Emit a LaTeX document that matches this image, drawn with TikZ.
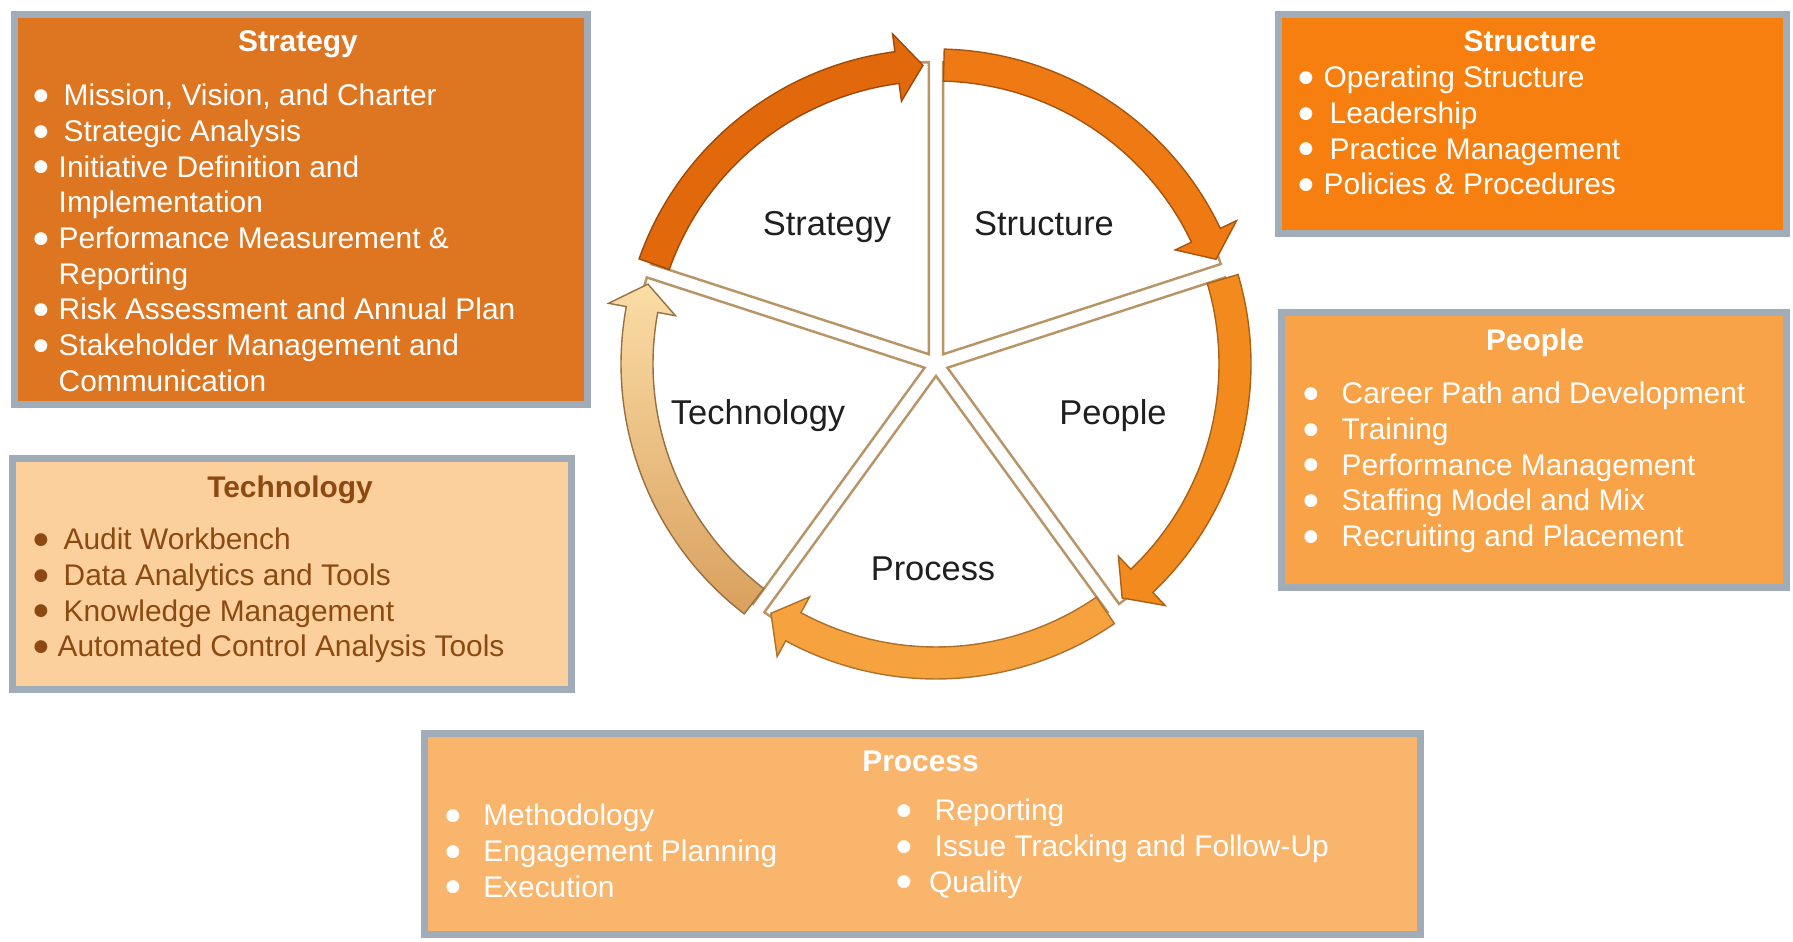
\documentclass[tikz,border=0pt]{standalone}
\usepackage{fontspec}
\setmainfont{Liberation Sans}
\newfontfamily\symfont{DejaVu Sans}
\usepackage{array}
\usepackage{tikz}
\usetikzlibrary{calc}
\definecolor{FrameGray}{HTML}{A0ADB9}
\definecolor{StratBox}{HTML}{DD7521}
\definecolor{StructBox}{HTML}{F67F0F}
\definecolor{PeopleBox}{HTML}{F9A349}
\definecolor{TechBox}{HTML}{FBD09C}
\definecolor{ProcBox}{HTML}{F9B56C}
\definecolor{TechText}{HTML}{8C4A12}
\definecolor{ArrStrat}{HTML}{E2680C}
\definecolor{ArrStruct}{HTML}{EF7A14}
\definecolor{ArrPeople}{HTML}{F38A1E}
\definecolor{ArrProc}{HTML}{F6A23E}
\definecolor{ArrTechTop}{HTML}{FBDDA6}
\definecolor{ArrTechBot}{HTML}{D9A05E}
\definecolor{WedgeEdge}{HTML}{B99467}
\newcommand{\boxfont}{\fontsize{8.5}{10.15}\selectfont}
\newcommand{\ringfont}{\fontsize{9.8}{11.8}\selectfont}
\newcommand{\blt}{\raisebox{1.5pt}{\symfont\fontsize{4.8}{4.8}\selectfont ●}}
\newcommand{\ringout}{3.15}
\newcommand{\ringin}{2.83}
\newcommand{\ringmid}{2.99}
% one pie piece, #1 = bisector angle
\newcommand{\wedgepiece}[1]{%
  \path[wedge] (#1:0.12) -- ++(#1-36:2.92)
    arc[start angle=#1-36, end angle=#1+36, radius=2.92] -- cycle;}
% curved arrow on the ring, clockwise from #1 to tip at #2
\newcommand{\ringarrow}[3]{%
  \path[#3] (#1:\ringout) arc[start angle=#1, end angle=#2+5, radius=\ringout]
    -- (#2+5:\ringout+0.18) -- (#2:\ringmid) -- (#2+5:\ringin-0.18)
    -- (#2+5:\ringin) arc[start angle=#2+5, end angle=#1, radius=\ringin] -- cycle;}

\begin{document}
\begin{tikzpicture}[
  bx/.style={draw=FrameGray, line width=2pt, inner sep=0pt},
  ttl/.style={anchor=base, font=\boxfont\bfseries},
  lst/.style={anchor=north west, inner sep=0pt, font=\boxfont},
  lbl/.style={anchor=base, font=\ringfont, text=black!88},
  wedge/.style={fill=white, draw=WedgeEdge, line width=0.7pt}]
  \path[use as bounding box, fill=white] (0,0) rectangle (17.93,9.41);

  % cycle
  \begin{scope}[shift={(9.36,5.77)}]
    \wedgepiece{126}
    \wedgepiece{54}
    \wedgepiece{-18}
    \wedgepiece{-90}
    \wedgepiece{198}
    \ringarrow{160.5}{92.5}{fill=ArrStrat, draw=ArrStrat!70!black, line width=0.4pt}
    \ringarrow{88.5}{20.5}{fill=ArrStruct, draw=ArrStruct!70!black, line width=0.4pt}
    \ringarrow{16.5}{-51.5}{fill=ArrPeople, draw=ArrPeople!70!black, line width=0.4pt}
    \ringarrow{-55.5}{-123.5}{fill=ArrProc, draw=ArrProc!70!black, line width=0.4pt}
    \ringarrow{-127.5}{-195.5}{top color=ArrTechTop, bottom color=ArrTechBot,
      draw=ArrTechBot!70!black, line width=0.4pt}
  \end{scope}
  \node[lbl] (lstrat)  at (8.27,7.055)  {Strategy};
  \node[lbl] (lstruct) at (10.44,7.055) {Structure};
  \node[lbl] (ltech)   at (7.58,5.165)  {Technology};
  \node[lbl] (lpeople) at (11.13,5.165) {People};
  \node[lbl] (lproc)   at (9.33,3.605)  {Process};

  % boxes
  \node[bx, fill=StratBox, minimum width=5.73cm, minimum height=3.9cm] (stratbox) at (3.01,7.315) {};
  \node[bx, fill=StructBox, minimum width=5.08cm, minimum height=2.19cm] (structbox) at (15.325,8.17) {};
  \node[bx, fill=PeopleBox, minimum width=5.05cm, minimum height=2.75cm] (peoplebox) at (15.34,4.91) {};
  \node[bx, fill=TechBox, minimum width=5.59cm, minimum height=2.31cm] (techbox) at (2.92,3.67) {};
  \node[bx, fill=ProcBox, minimum width=9.96cm, minimum height=2.01cm] (procbox) at (9.225,1.07) {};

  % titles
  \node[ttl, text=white] (stratttl)  at (2.98,8.89)  {Strategy};
  \node[ttl, text=white] (structttl) at (15.30,8.89) {Structure};
  \node[ttl, text=white] (peoplettl) at (15.35,5.90) {People};
  \node[ttl, text=TechText] (techttl) at (2.90,4.43) {Technology};
  \node[ttl, text=white] (procttl)   at (9.205,1.70) {Process};

  % item lists
  \node[lst, text=white] (stratlist) at (0.33,8.61) {%
    \begin{tabular}{@{}p{0.25cm}@{}l@{}}
    \blt & \hspace{0.05cm}Mission, Vision, and Charter\\
    \blt & \hspace{0.05cm}Strategic Analysis\\
    \blt & Initiative Definition and\\
         & Implementation\\
    \blt & Performance Measurement \&\\
         & Reporting\\
    \blt & Risk Assessment and Annual Plan\\
    \blt & Stakeholder Management and\\
         & Communication
    \end{tabular}};
  \node[lst, text=white] (structlist) at (12.98,8.79) {%
    \begin{tabular}{@{}p{0.25cm}@{}l@{}}
    \blt & Operating Structure\\
    \blt & \hspace{0.06cm}Leadership\\
    \blt & \hspace{0.06cm}Practice Management\\
    \blt & Policies \& Procedures
    \end{tabular}};
  \node[lst, text=white] (peoplelist) at (13.03,5.63) {%
    \begin{tabular}{@{}p{0.38cm}@{}l@{}}
    \blt & Career Path and Development\\
    \blt & Training\\
    \blt & Performance Management\\
    \blt & Staffing Model and Mix\\
    \blt & Recruiting and Placement
    \end{tabular}};
  \node[lst, text=TechText] (techlist) at (0.33,4.17) {%
    \begin{tabular}{@{}p{0.24cm}@{}l@{}}
    \blt & \hspace{0.06cm}Audit Workbench\\
    \blt & \hspace{0.06cm}Data Analytics and Tools\\
    \blt & \hspace{0.06cm}Knowledge Management\\
    \blt & Automated Control Analysis Tools
    \end{tabular}};
  \node[lst, text=white] (proclistl) at (4.45,1.41) {%
    \begin{tabular}{@{}p{0.376cm}@{}l@{}}
    \blt & Methodology\\
    \blt & Engagement Planning\\
    \blt & Execution
    \end{tabular}};
  \node[lst, text=white] (proclistr) at (8.96,1.46) {%
    \begin{tabular}{@{}p{0.325cm}@{}l@{}}
    \blt & \hspace{0.055cm}Reporting\\
    \blt & \hspace{0.055cm}Issue Tracking and Follow-Up\\
    \blt & Quality
    \end{tabular}};
\end{tikzpicture}
\end{document}
